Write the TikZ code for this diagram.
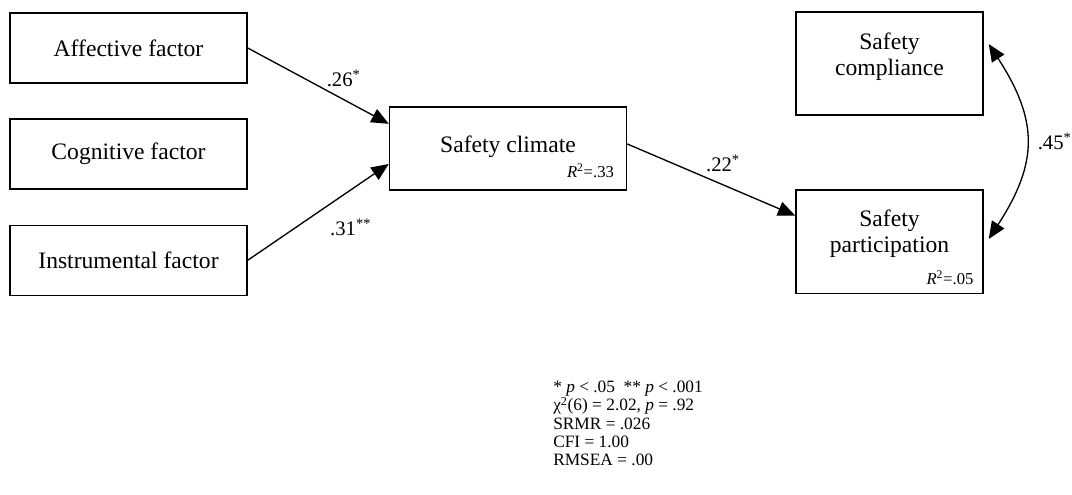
\documentclass[tikz,border=0pt]{standalone}
\usepackage{fontspec}
\setmainfont{Liberation Serif}
\usetikzlibrary{positioning,arrows.meta}

\begin{document}
\begin{tikzpicture}[
  x=0.75pt, y=0.75pt,
  node distance=26pt and 10mm,
  box/.style={draw, line width=1.1pt, minimum width=177.75pt, minimum height=52.5pt, inner sep=0pt, font=\fontsize{17.7}{20}\selectfont},
  outbox/.style={draw, line width=1.1pt, minimum width=140.25pt, minimum height=77.5pt, inner sep=0pt},
  boxtext/.style={align=center, font=\fontsize{17.7}{19.5}\selectfont},
  coef/.style={font=\fontsize{15.5}{18}\selectfont},
  rsq/.style={inner sep=0pt, font=\fontsize{12.5}{14}\selectfont},
  note/.style={align=left, anchor=north west, inner sep=0pt, font=\fontsize{13}{13.6}\selectfont},
  flow/.style={-{Triangle[length=13pt,width=11pt]}, line width=1pt},
  corr/.style={{Triangle[length=13pt,width=11pt]}-{Triangle[length=13pt,width=11pt]}, line width=1pt}
]
\useasboundingbox (0,0) rectangle (1072,-495);

% predictors
\node[box] (affective) at (128.5,-48) {Affective factor};
\node[box, below=of affective] (cognitive) {Cognitive factor};
\node[box, below=of cognitive] (instrumental) {Instrumental factor};

% mediator
\node[box, minimum height=62.25pt] (climate) at (508,-148.5) {};
\node[boxtext] (climatetext) at ([yshift=1.5pt]climate.center) {Safety climate};
\node[rsq, anchor=base east] (climater2) at ([shift={(-9.75pt,9.75pt)}]climate.south east) {\textit{R}\textsuperscript{2}=.33};

% outcomes
\node[outbox] (compliance) at (889.5,-63.5) {};
\node[boxtext] (compliancetext) at ([yshift=5pt]compliance.center) {Safety\\compliance};
\node[outbox, below=55pt of compliance] (participation) {};
\node[boxtext] (participationtext) at ([yshift=6pt]participation.center) {Safety\\participation};
\node[rsq, anchor=base east] (participationr2) at ([shift={(-7.5pt,7.5pt)}]participation.south east) {\textit{R}\textsuperscript{2}=.05};

\coordinate (comptip) at ([shift={(3.75pt,14.6pt)}]compliance.east);
\coordinate (parttip) at ([shift={(3.75pt,2pt)}]participation.east);

\draw[flow] (affective.east) -- ([yshift=18.5pt]climate.west) node[coef, pos=0.68, above=6pt] {.26\textsuperscript{*}};
\draw[flow] (instrumental.east) -- ([yshift=-11.6pt]climate.west) node[coef, pos=0.73, below=18pt] {.31\textsuperscript{**}};
\draw[flow] ([yshift=3.4pt]climate.east) -- ([yshift=19.5pt]participation.west) node[coef, pos=0.57, above=6pt] {.22\textsuperscript{*}};
\draw[corr] (comptip) to[out=-57, in=57, looseness=1.2] node[coef, right=5pt] {.45\textsuperscript{*}} (parttip);

% fit indices
\node[note] (fitnote) at (553,-381) {* \textit{p} < .05\enspace ** \textit{p} < .001\\
χ\textsuperscript{2}(6) = 2.02, \textit{p} = .92\\
SRMR = .026\\
CFI = 1.00\\
RMSEA = .00};
\end{tikzpicture}
\end{document}
